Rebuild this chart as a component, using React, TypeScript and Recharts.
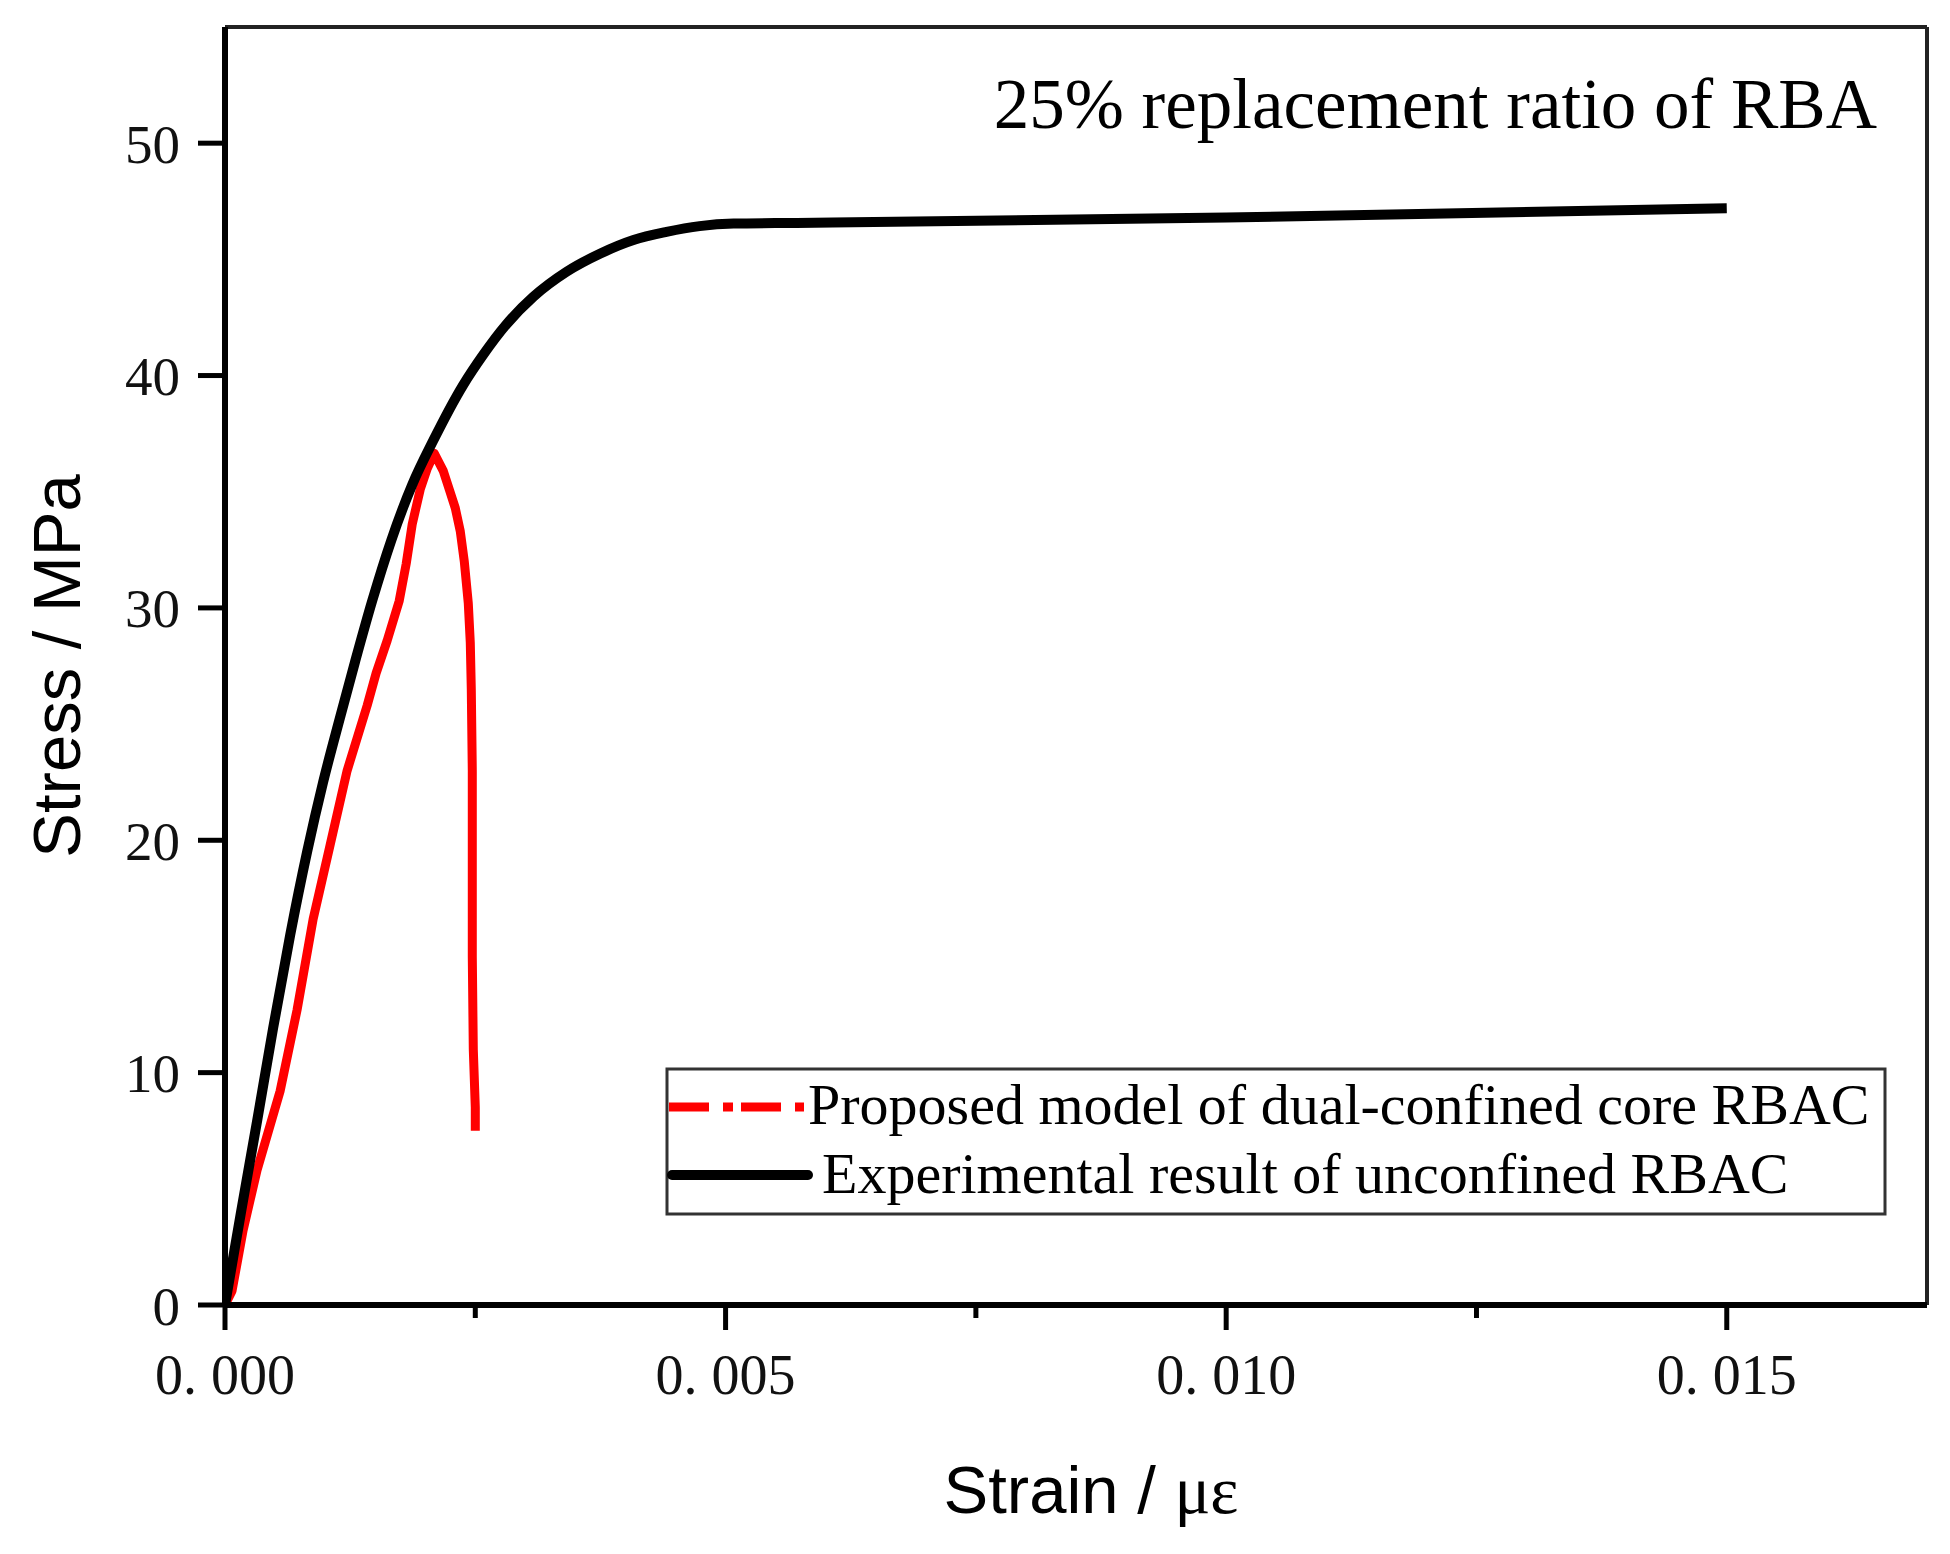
import React from 'react';
import { LineChart, Line, XAxis, YAxis, ReferenceLine, Customized } from 'recharts';

// Experimental result of unconfined RBAC (black)
const expStrain = [0, 0.00016, 0.00032, 0.00048, 0.00065, 0.00082, 0.00098, 0.00115, 0.0013, 0.00147, 0.00166, 0.00187, 0.00208, 0.00238, 0.00258, 0.00281, 0.00308, 0.00341, 0.00375, 0.00408, 0.00441, 0.00474, 0.00508, 0.00571, 0.01, 0.015];
const expStress = [0, 4.0, 7.9, 11.9, 15.9, 19.5, 22.5, 25.3, 27.7, 30.3, 32.9, 35.3, 37.2, 39.6, 40.9, 42.2, 43.39, 44.46, 45.25, 45.83, 46.18, 46.43, 46.54, 46.57, 46.8, 47.2];

// Proposed model of dual-confined core RBAC (red)
const modelStrain = [0, 0.00007, 0.00018, 0.00032, 0.00055, 0.00072, 0.00088, 0.00105, 0.00122, 0.00142, 0.00151, 0.00162, 0.00174, 0.00181, 0.00187, 0.00195, 0.00202, 0.00209, 0.00218, 0.00224, 0.0023, 0.00235, 0.00239, 0.00243, 0.00245, 0.00246, 0.00247, 0.00247, 0.00247, 0.00248, 0.0025, 0.0025];
const modelStress = [0, 0.6, 3.2, 5.8, 9.2, 12.7, 16.6, 19.8, 23.0, 25.8, 27.2, 28.6, 30.3, 31.9, 33.6, 35.1, 36.0, 36.65, 35.9, 35.1, 34.3, 33.3, 32.0, 30.2, 28.5, 26.5, 23.0, 19.0, 15.0, 11.0, 8.5, 7.5];

const xTicks = [0, 0.0025, 0.005, 0.0075, 0.01, 0.0125, 0.015];
const xMajorTicks = [0, 0.005, 0.01, 0.015];
const xTickLabels = ['0. 000', '0. 005', '0. 010', '0. 015'];
const yTicks = [0, 10, 20, 30, 40, 50];

const seriesNames = ['Proposed model of dual-confined core RBAC', 'Experimental result of unconfined RBAC'];
const seriesColors = ['#ff0000', '#000000'];
const chartTitle = '25% replacement ratio of RBA';
const yTitle = 'Stress / MPa';
const xTitleMain = 'Strain / ';
const xTitleUnit = 'με';

const expData = expStrain.map((x, i) => ({ x, y: expStress[i] }));
const modelData = modelStrain.map((x, i) => ({ x, y: modelStress[i] }));

const SERIF = "'Liberation Serif', 'Times New Roman', serif";
const SANS = "'Liberation Sans', Arial, sans-serif";

const XTick = (props: any) => {
  const { x, y, payload } = props;
  const v = payload.value;
  const idx = xMajorTicks.findIndex((t) => Math.abs(t - v) < 1e-9);
  const major = idx >= 0;
  return (
    <g>
      <line x1={x} x2={x} y1={y} y2={y + (major ? 25 : 13)} stroke="#000" strokeWidth={5} />
      {major && (
        <text x={x} y={y + 89} textAnchor="middle" fontFamily={SERIF} fontSize={56} fill="#111">
          {xTickLabels[idx]}
        </text>
      )}
    </g>
  );
};

const Decorations = () => (
  <g>
    <text x={1877} y={128} textAnchor="end" fontFamily={SERIF} fontSize={71} fill="#000">
      {chartTitle}
    </text>
    <text
      x={80}
      y={666}
      textAnchor="middle"
      transform="rotate(-90 80 666)"
      fontFamily={SANS}
      fontSize={67}
      fill="#000"
    >
      {yTitle}
    </text>
    <text x={1091} y={1513} textAnchor="middle" fontFamily={SANS} fontSize={67} fill="#000">
      {xTitleMain}
      <tspan fontFamily={SERIF}>{xTitleUnit}</tspan>
    </text>
    {/* legend */}
    <rect x={667} y={1069} width={1218} height={145} fill="#fff" stroke="#333" strokeWidth={3} />
    <line x1={669} x2={804} y1={1107} y2={1107} stroke={seriesColors[0]} strokeWidth={9} strokeDasharray="40 14 10 8" />
    <text x={808} y={1124} fontFamily={SERIF} fontSize={58} fill="#000">
      {seriesNames[0]}
    </text>
    <line x1={672} x2={808} y1={1175} y2={1175} stroke={seriesColors[1]} strokeWidth={10} strokeLinecap="round" />
    <text x={822} y={1193} fontFamily={SERIF} fontSize={58} fill="#000">
      {seriesNames[1]}
    </text>
  </g>
);

export default function App() {
  return (
    <div style={{ position: 'absolute', left: 0, top: 0, background: '#fff' }}>
      <LineChart width={1950} height={1554} margin={{ top: 27, right: 23, left: 0, bottom: 0 }}>
        <XAxis
          dataKey="x"
          type="number"
          domain={[0, 0.017]}
          allowDataOverflow
          ticks={xTicks}
          interval={0}
          height={249}
          tickSize={0}
          tickMargin={0}
          tickLine={false}
          tick={<XTick />}
          axisLine={{ stroke: '#000', strokeWidth: 6 }}
        />
        <YAxis
          type="number"
          domain={[0, 55]}
          allowDataOverflow
          ticks={yTicks}
          interval={0}
          width={225}
          tickSize={27}
          tickMargin={18}
          tickLine={{ stroke: '#000', strokeWidth: 5 }}
          tick={{ fontFamily: SERIF, fontSize: 55, fill: '#111' }}
          axisLine={{ stroke: '#000', strokeWidth: 6 }}
        />
        <ReferenceLine y={55} stroke="#222" strokeWidth={4} />
        <ReferenceLine x={0.017} stroke="#222" strokeWidth={4} />
        <Line
          data={modelData}
          dataKey="y"
          name={seriesNames[0]}
          type="linear"
          stroke={seriesColors[0]}
          strokeWidth={9}
          dot={false}
          strokeLinejoin="round"
          isAnimationActive={false}
        />
        <Line
          data={expData}
          dataKey="y"
          name={seriesNames[1]}
          type="monotone"
          stroke={seriesColors[1]}
          strokeWidth={10}
          dot={false}
          strokeLinejoin="round"
          isAnimationActive={false}
        />
        <Customized component={Decorations} />
      </LineChart>
    </div>
  );
}
